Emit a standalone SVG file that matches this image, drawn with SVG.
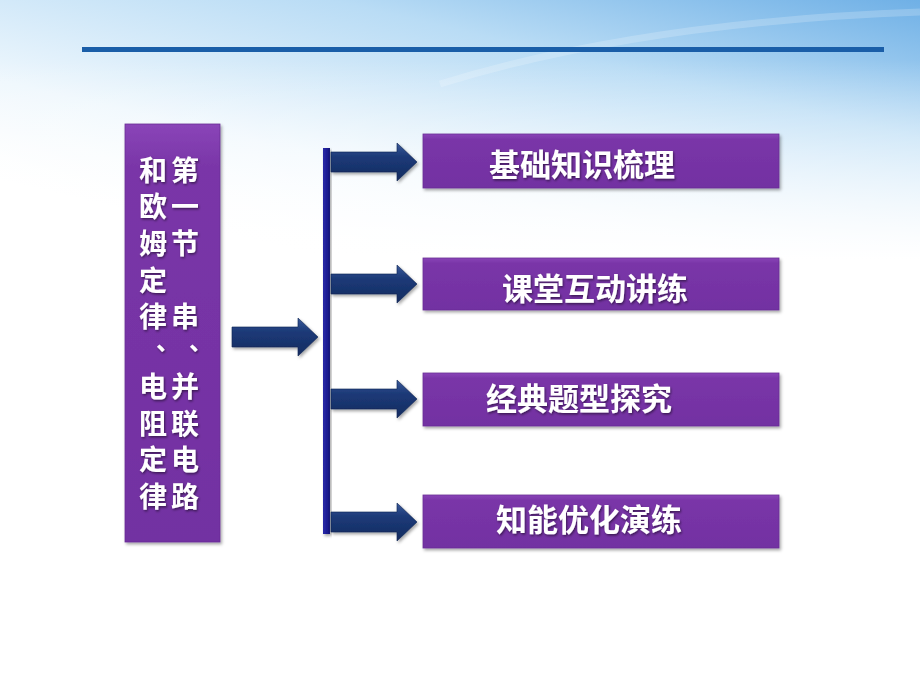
<svg xmlns="http://www.w3.org/2000/svg" width="920" height="690" viewBox="0 0 920 690">
<defs>
<linearGradient id="sky" x1="1" y1="0" x2="0.25" y2="0.9">
<stop offset="0" stop-color="#6fb0e6"/>
<stop offset="0.35" stop-color="#b9dcf5"/>
<stop offset="0.75" stop-color="#eef7fd"/>
<stop offset="1" stop-color="#ffffff"/>
</linearGradient>
<linearGradient id="fadeDown" x1="0" y1="0" x2="0" y2="1">
<stop offset="0" stop-color="#fff" stop-opacity="0"/>
<stop offset="1" stop-color="#fff" stop-opacity="1"/>
</linearGradient>
<linearGradient id="box" x1="0" y1="0" x2="0" y2="1">
<stop offset="0" stop-color="#8a45b8"/>
<stop offset="0.1" stop-color="#7a36a8"/>
<stop offset="1" stop-color="#7230a2"/>
</linearGradient>
<linearGradient id="arrowG" x1="0" y1="0" x2="0" y2="1">
<stop offset="0" stop-color="#3a5a9a"/>
<stop offset="0.35" stop-color="#1c3a78"/>
<stop offset="1" stop-color="#142c60"/>
</linearGradient>
<linearGradient id="barG" x1="0" y1="0" x2="1" y2="0">
<stop offset="0" stop-color="#2a2aa8"/>
<stop offset="0.5" stop-color="#1e1e96"/>
<stop offset="1" stop-color="#141478"/>
</linearGradient>
<filter id="sh" x="-10%" y="-10%" width="125%" height="130%">
<feDropShadow dx="1.5" dy="2" stdDeviation="1.5" flood-color="#000" flood-opacity="0.35"/>
</filter>
<filter id="tsh" x="-10%" y="-10%" width="120%" height="130%">
<feDropShadow dx="1" dy="1.5" stdDeviation="0.8" flood-color="#000" flood-opacity="0.5"/>
</filter>
<path id="arr" d="M0,-10 L66,-10 L66,-19 L86,0 L66,19 L66,10 L0,10 Z"/>
</defs>
<style>
.box{fill:url(#box);stroke:#6a2d96;stroke-width:0.8;filter:url(#sh)}
.lbl{font-family:"Liberation Sans","Noto Sans CJK SC",sans-serif;font-weight:bold;font-size:31px;fill:#fff;text-anchor:middle;filter:url(#tsh)}
.vt{font-family:"Noto Sans CJK SC",sans-serif;font-weight:bold;font-size:28px;fill:#fff;text-anchor:middle;filter:url(#tsh)}
.dun{font-size:24px}
.arrow{fill:url(#arrowG);stroke:#0f2450;stroke-width:0.6;filter:url(#sh)}
</style>
<rect width="920" height="690" fill="#fff"/>
<rect width="920" height="260" fill="url(#sky)"/>
<rect y="60" width="920" height="200" fill="url(#fadeDown)"/>
<path d="M440,84 Q640,22 920,12" stroke="#ffffff" stroke-opacity="0.2" stroke-width="7" fill="none"/>
<rect x="82" y="47" width="802" height="5" fill="#1a5ea8"/>

<g id="title">
<rect class="box" x="125" y="124" width="95" height="418"/>
<g class="vt">
<text x="185" y="181">第</text>
<text x="185" y="217">一</text>
<text x="185" y="254">节</text>
<text x="185" y="327">串</text>
<text class="dun" x="201" y="350">、</text>
<text x="185" y="397">并</text>
<text x="185" y="434">联</text>
<text x="185" y="470">电</text>
<text x="185" y="507">路</text>
<text x="153" y="181">和</text>
<text x="153" y="217">欧</text>
<text x="153" y="254">姆</text>
<text x="153" y="291">定</text>
<text x="153" y="327">律</text>
<text class="dun" x="168" y="350">、</text>
<text x="153" y="397">电</text>
<text x="153" y="434">阻</text>
<text x="153" y="470">定</text>
<text x="153" y="507">律</text>
</g>
</g>

<g id="connectors">
<use href="#arr" class="arrow" transform="translate(232,337)"/>
<rect x="323" y="148" width="7" height="386" fill="url(#barG)" filter="url(#sh)"/>
<use href="#arr" class="arrow" transform="translate(331,162)"/>
<use href="#arr" class="arrow" transform="translate(331,284)"/>
<use href="#arr" class="arrow" transform="translate(331,399)"/>
<use href="#arr" class="arrow" transform="translate(331,522)"/>
</g>

<g id="n1"><rect class="box" x="423" y="134" width="356" height="54"/><text class="lbl" x="582" y="176">基础知识梳理</text></g>
<g id="n2"><rect class="box" x="423" y="258" width="356" height="52"/><text class="lbl" x="595" y="300">课堂互动讲练</text></g>
<g id="n3"><rect class="box" x="423" y="373" width="356" height="53"/><text class="lbl" x="579" y="410">经典题型探究</text></g>
<g id="n4"><rect class="box" x="423" y="495" width="356" height="53"/><text class="lbl" x="589" y="531">知能优化演练</text></g>
</svg>
